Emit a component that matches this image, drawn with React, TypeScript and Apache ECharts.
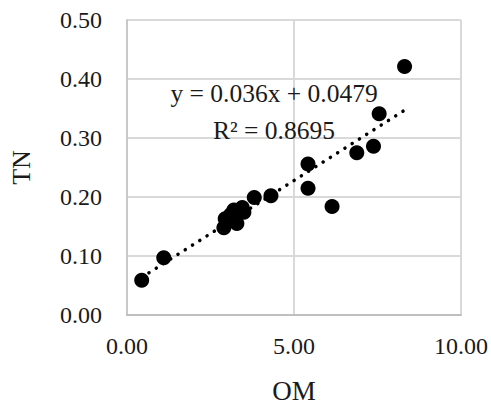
import React, { useEffect, useRef } from "react";
import * as echarts from "echarts";

const omValues = [0.44, 1.1, 2.9, 2.94, 3.1, 3.29, 3.2, 3.45, 3.5, 3.81, 4.31, 5.42, 5.42, 6.14, 6.88, 7.38, 7.55, 8.31];
const tnValues = [0.059, 0.097, 0.148, 0.163, 0.17, 0.155, 0.178, 0.182, 0.174, 0.199, 0.202, 0.256, 0.215, 0.184, 0.275, 0.286, 0.341, 0.421];
const slope = 0.036;
const intercept = 0.0479;
const equationText = "y = 0.036x + 0.0479";
const rSquaredText = "R² = 0.8695";

const FONT = "'Liberation Serif', 'DejaVu Serif', serif";
const TEXT = "#1a1a1a";

export default function App() {
  const ref = useRef<HTMLDivElement>(null);
  useEffect(() => {
    if (!ref.current) return;
    document.body.style.margin = "0";
    const chart = echarts.init(ref.current, undefined, { renderer: "svg" });
    const points = omValues.map((x, i) => [x, tnValues[i]]);
    const xMin = Math.min(...omValues);
    const xMax = Math.max(...omValues);
    const trend = [
      [xMin, slope * xMin + intercept],
      [xMax, slope * xMax + intercept],
    ];
    chart.setOption({
      animation: false,
      grid: { left: 124, right: 30, top: 20, bottom: 91 },
      xAxis: {
        type: "value",
        min: 0,
        max: 10,
        interval: 5,
        name: "OM",
        nameLocation: "middle",
        nameGap: 62,
        nameTextStyle: { fontFamily: FONT, fontSize: 27, color: TEXT },
        axisLine: { show: true, lineStyle: { color: "#bfbfbf", width: 2 } },
        axisTick: { show: false },
        axisLabel: { fontFamily: FONT, fontSize: 24, color: TEXT, margin: 19, formatter: (v: number) => v.toFixed(2) },
        splitLine: { show: true, lineStyle: { color: "#d9d9d9", width: 2 } },
      },
      yAxis: {
        type: "value",
        min: 0,
        max: 0.5,
        interval: 0.1,
        name: "TN",
        nameLocation: "middle",
        nameGap: 93,
        nameRotate: 90,
        nameTextStyle: { fontFamily: FONT, fontSize: 26, color: TEXT },
        axisLine: { show: true, lineStyle: { color: "#c8c8c8", width: 2 } },
        axisTick: { show: false },
        axisLabel: { fontFamily: FONT, fontSize: 24, color: TEXT, margin: 25, formatter: (v: number) => v.toFixed(2) },
        splitLine: { show: true, lineStyle: { color: "#d9d9d9", width: 2 } },
      },
      series: [
        {
          type: "line",
          data: trend,
          symbol: "none",
          lineStyle: { color: "#000", width: 3.5, type: [0.1, 8.5], cap: "round" },
          z: 1,
        },
        {
          type: "scatter",
          data: points,
          symbol: "circle",
          symbolSize: 15,
          itemStyle: { color: "#000", opacity: 1 },
          z: 2,
        },
      ],
      graphic: [
        {
          type: "text",
          x: 274,
          y: 93,
          style: { text: equationText, fontFamily: FONT, fontSize: 25.5, fill: TEXT, textAlign: "center", textVerticalAlign: "middle" },
          z: 10,
        },
        {
          type: "text",
          x: 274,
          y: 130,
          style: { text: rSquaredText, fontFamily: FONT, fontSize: 25.5, fill: TEXT, textAlign: "center", textVerticalAlign: "middle" },
          z: 10,
        },
      ],
    });
    return () => chart.dispose();
  }, []);
  return <div ref={ref} style={{ width: 491, height: 409 }} />;
}
